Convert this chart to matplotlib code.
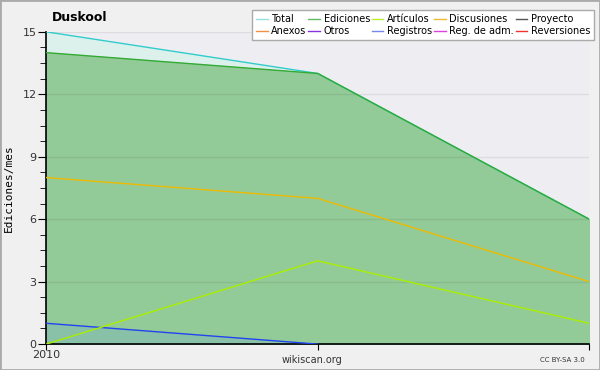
import matplotlib.pyplot as plt
import numpy as np
from matplotlib.ticker import MultipleLocator

## Datos
meses = [0, 1, 2]
etiquetas_x = ['2010', '', '']
total = [15, 13, 6]
ediciones = [14, 13, 6]
articulos = [0, 4, 1]
discusiones = [8, 7, 3]
registros = [1, 0, 0]

nombres_leyenda = ['Total', 'Anexos', 'Ediciones', 'Otros', 'Artículos', 'Registros',
                   'Discusiones', 'Reg. de adm.', 'Proyecto', 'Reversiones']
colores_leyenda = ['#99e0e0', '#f09040', '#66bb66', '#8833dd', '#bbee33', '#7788ee',
                   '#eebb33', '#dd44dd', '#555555', '#ee3333']

fig = plt.figure(figsize=(6, 3.7), dpi=100, facecolor='#f0f0f0')
fig.patches.append(plt.Rectangle((0, 0), 1, 1, transform=fig.transFigure,
                                 fill=False, edgecolor='#aaaaaa', linewidth=2))
ax = fig.add_axes([0.077, 0.07, 0.905, 0.844])
ax.set_facecolor('#eeeef2')

ax.fill_between(meses, 0, total, color='#dcf1ec', zorder=1)
ax.plot(meses, total, color='#33cccc', linewidth=1, zorder=3)
ax.fill_between(meses, 0, ediciones, color='#93cb98', zorder=2)
ax.plot(meses, ediciones, color='#33aa33', linewidth=1, zorder=3)
ax.fill_between(meses[:2], 0, registros[:2], color='#88c0a8', zorder=2)
ax.plot(meses[:2], registros[:2], color='#2244ee', linewidth=1, zorder=4)
ax.plot(meses, discusiones, color='#eebb00', linewidth=1, zorder=4)
ax.plot(meses, articulos, color='#aaee00', linewidth=1, zorder=4)

ax.set_xlim(0, 2)
ax.set_ylim(0, 15)
ax.set_xticks(meses)
ax.set_xticklabels(etiquetas_x)
ax.yaxis.set_major_locator(MultipleLocator(3))
ax.yaxis.set_minor_locator(MultipleLocator(0.75))
ax.grid(axis='y', which='major', color='#000000', alpha=0.07, linewidth=1)
ax.set_axisbelow(False)
for lado in ['top', 'right']:
    ax.spines[lado].set_visible(False)
ax.spines['left'].set_linewidth(1.2)
ax.spines['bottom'].set_linewidth(1.2)
ax.tick_params(axis='y', which='major', length=6, labelsize=8, colors='#000000',
               labelcolor='#333333', pad=1)
ax.tick_params(axis='y', which='minor', length=4)
ax.tick_params(axis='x', length=4, labelsize=8, labelcolor='#333333', pad=0)
ax.set_ylabel('Ediciones/mes', family='DejaVu Sans Mono', fontsize=8, labelpad=6)

fig.text(0.133, 0.954, 'Duskool', fontsize=9, fontweight='bold', ha='center', va='center')
fig.text(0.52, 0.027, 'wikiscan.org', fontsize=7, ha='center', va='center', color='#333333')
fig.text(0.975, 0.027, 'CC BY-SA 3.0', fontsize=5, ha='right', va='center', color='#333333')

manejadores = [plt.Line2D([], [], color=c, linewidth=1) for c in colores_leyenda]
leyenda = fig.legend(manejadores, nombres_leyenda, ncol=5, loc='upper right',
                     bbox_to_anchor=(0.998, 0.985), fontsize=7, frameon=True,
                     fancybox=False, edgecolor='#aaaaaa', facecolor='white',
                     handlelength=1.2, handletextpad=0.35, columnspacing=0.2,
                     labelspacing=0.2, borderpad=0.4, framealpha=1)
leyenda.get_frame().set_linewidth(1)

plt.savefig('out.png', dpi=100, facecolor=fig.get_facecolor())
